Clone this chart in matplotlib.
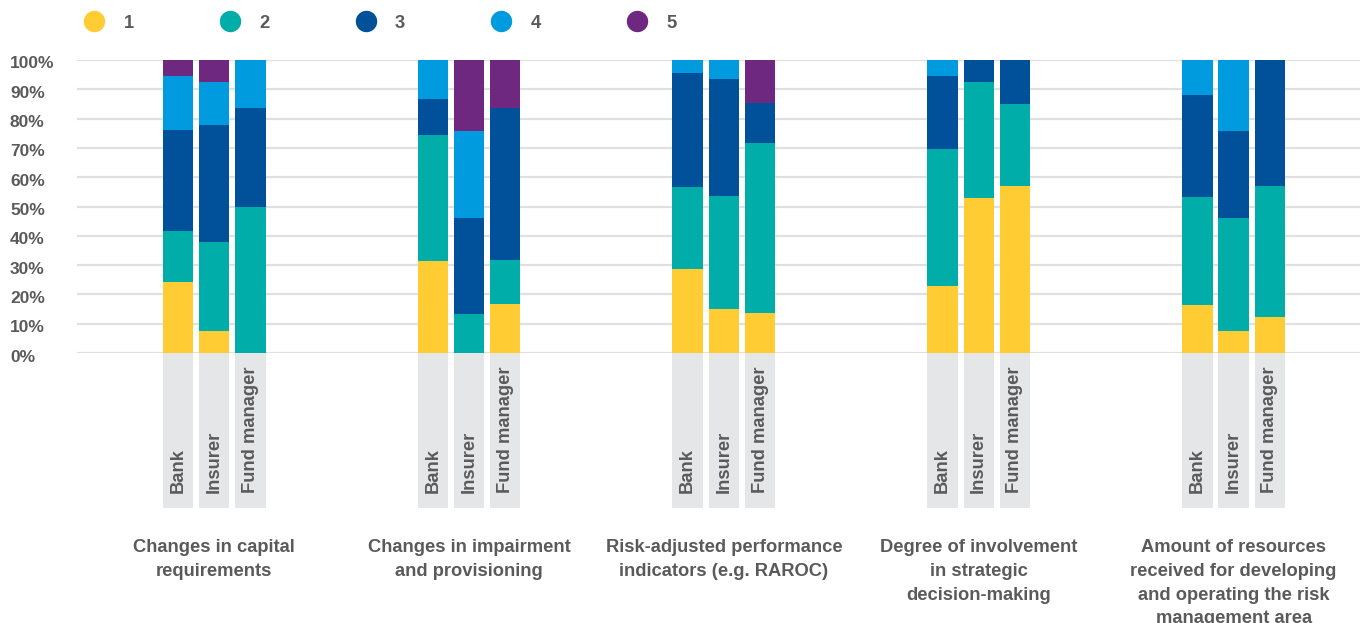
import numpy as np
import matplotlib
matplotlib.use("Agg")
import matplotlib.pyplot as plt
from matplotlib.lines import Line2D
from matplotlib.transforms import ScaledTranslation

# 数据
groups = [
    "Changes in capital\nrequirements",
    "Changes in impairment\nand provisioning",
    "Risk-adjusted performance\nindicators (e.g. RAROC)",
    "Degree of involvement\nin strategic\ndecision-making",
    "Amount of resources\nreceived for developing\nand operating the risk\nmanagement area",
]
entities = ["Bank", "Insurer", "Fund manager"]
series_names = ["1", "2", "3", "4", "5"]

# 每个序列: 5 组 x 3 个机构 (Bank, Insurer, Fund manager)
s1 = [24.3, 7.5, 0.0,   31.3, 0.0, 16.6,   28.6, 15.0, 13.6,   22.9, 53.0, 56.9,   16.3, 7.4, 12.2]
s2 = [17.3, 30.4, 50.0, 43.1, 13.2, 15.1,  28.0, 38.5, 58.0,   46.7, 39.5, 28.1,   36.9, 38.6, 44.7]
s3 = [34.5, 40.0, 33.6, 12.3, 32.8, 51.9,  39.0, 40.0, 13.7,   24.9, 7.5, 15.0,    34.8, 29.7, 43.1]
s4 = [18.5, 14.6, 16.4, 13.3, 29.7, 0.0,   4.4, 6.5, 0.0,      5.5, 0.0, 0.0,      12.0, 24.3, 0.0]
s5 = [5.4, 7.5, 0.0,    0.0, 24.3, 16.4,   0.0, 0.0, 14.7,     0.0, 0.0, 0.0,      0.0, 0.0, 0.0]
series = [s1, s2, s3, s4, s5]
colors = ["#FFCD33", "#00ADA8", "#00509A", "#009BDE", "#6E2880"]

yticks = np.arange(0, 101, 10)
ytick_labels = [f"{v}%" for v in yticks]

text_color = "#5A5A5A"
font = "Liberation Sans"
plt.rcParams["font.family"] = [font, "DejaVu Sans"]

W, H = 1360, 623
fig = plt.figure(figsize=(W / 100, H / 100), dpi=100)
# 坐标轴: x 像素 77..1360, y 像素 60(100%)..353(0%)
ax = fig.add_axes([77 / W, (H - 353) / H, (W - 77) / W, 293 / H])

px_per_unit = 36.2   # 相邻柱子间距(像素)
group_step = 7.04    # 组间距(柱单位)
bar_w = 0.84
ax.set_xlim(-(178 - 77) / px_per_unit, (W - 178) / px_per_unit)
ax.set_ylim(0, 100)
px_y = 100 / 293  # 每像素对应的百分比

x = np.array([g * group_step + b for g in range(len(groups)) for b in range(len(entities))])

# 灰色标签底框
box_h = (508 - 353) * px_y
ax.bar(x, box_h, bottom=-box_h, width=bar_w, color="#E5E6E8", clip_on=False, zorder=1)

bottom = np.zeros(len(x))
for vals, c in zip(series, colors):
    vals = np.array(vals)
    ax.bar(x, vals, bottom=bottom, width=bar_w, color=c, linewidth=0, zorder=3)
    bottom += vals

for i, xi in enumerate(x):
    ax.text(xi, -(493 - 353) * px_y, entities[i % 3], rotation=90, ha="center", va="bottom",
            fontsize=13.2, fontweight="bold", color=text_color, clip_on=False)

for g, name in enumerate(groups):
    ax.text(g * group_step + 1, -(539 - 353) * px_y, name, ha="center", va="top",
            fontsize=13.2, fontweight="bold", color=text_color, linespacing=1.52, clip_on=False)

ax.set_yticks(yticks)
ax.set_yticklabels(ytick_labels, fontsize=12.5, fontweight="bold", color=text_color, ha="left")
ax.tick_params(axis="y", length=0, pad=(77 - 10) * 0.72)
ax.tick_params(axis="x", length=0, labelbottom=False)
offset = ScaledTranslation(0, -2.5 / 100, fig.dpi_scale_trans)
for lbl in ax.get_yticklabels():
    lbl.set_transform(lbl.get_transform() + offset)

ax.yaxis.grid(True, color="#E0E0E0", linewidth=1.6)
ax.set_axisbelow(True)
for s in ax.spines.values():
    s.set_visible(False)

handles = [Line2D([], [], linestyle="none", marker="o", markersize=14.4, color=c) for c in colors]
leg = fig.legend(handles, series_names, loc="center left", ncol=5, frameon=False,
                 bbox_to_anchor=(85 / W, 1 - 23 / H), bbox_transform=fig.transFigure,
                 borderpad=0, borderaxespad=0, handlelength=1.0, handletextpad=1.1,
                 columnspacing=4.75, prop={"family": font, "weight": "bold", "size": 13.2})
for t in leg.get_texts():
    t.set_color(text_color)

plt.savefig("out.png", dpi=100)
plt.close()
